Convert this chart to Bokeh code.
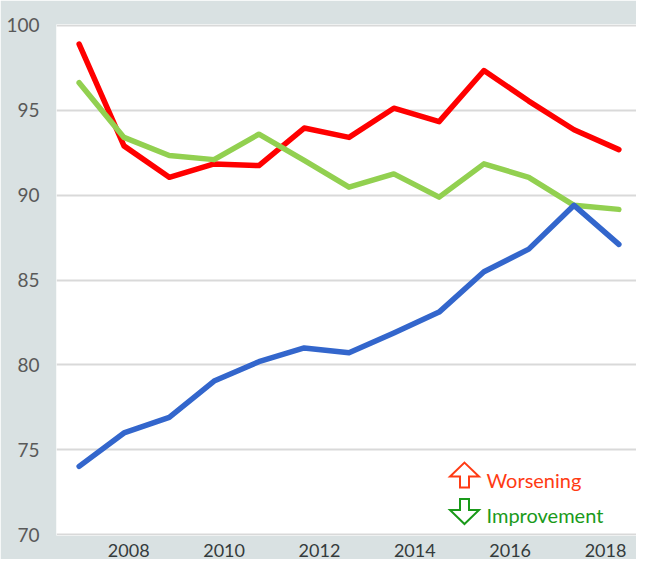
from bokeh.plotting import figure
from bokeh.models import FixedTicker, Label
from bokeh.embed import file_html
from bokeh.resources import INLINE

# Data
x_years = [2006.96, 2007.90, 2008.85, 2009.79, 2010.73, 2011.68, 2012.62,
           2013.56, 2014.51, 2015.45, 2016.39, 2017.34, 2018.28]
red_values = [98.9, 92.9, 91.05, 91.84, 91.74, 93.95, 93.4, 95.12, 94.33,
              97.34, 95.54, 93.85, 92.68]
green_values = [96.62, 93.4, 92.33, 92.09, 93.59, 92.05, 90.47, 91.25, 89.88,
                91.84, 91.05, 89.4, 89.16]
blue_values = [74.02, 75.99, 76.91, 79.05, 80.19, 81.0, 80.71, 81.88, 83.11,
               85.49, 86.82, 89.4, 87.1]
x_ticks = [2008, 2010, 2012, 2014, 2016, 2018]
y_ticks = [70, 75, 80, 85, 90, 95, 100]

BG = "#d9e1e2"
FONT = "Lato"
WORSE = "#ff3b14"
BETTER = "#1a9a1a"

X0, X1 = 2006.485, 2018.65
Y0, Y1 = 69.95, 100.05
LEFT, TOP = 56, 24
FRAME_W, FRAME_H = 636 - LEFT, 512

p = figure(width=636, height=559, output_backend="svg", toolbar_location=None,
           x_range=(X0, X1), y_range=(Y0, Y1),
           min_border_left=LEFT, min_border_top=TOP, min_border_right=0,
           min_border_bottom=559 - TOP - FRAME_H)
p.border_fill_color = BG
p.background_fill_color = "white"
p.outline_line_color = None

p.line(x_years, red_values, line_color="#ff0000", line_width=5.5,
       line_cap="round", line_join="round")
p.line(x_years, green_values, line_color="#92d050", line_width=5.5,
       line_cap="round", line_join="round")
p.line(x_years, blue_values, line_color="#3366cc", line_width=5.5,
       line_cap="round", line_join="round")

p.xgrid.grid_line_color = None
p.ygrid.grid_line_color = "#d9d9d9"
p.ygrid.grid_line_width = 2
p.yaxis.ticker = FixedTicker(ticks=y_ticks)
p.xaxis.ticker = FixedTicker(ticks=x_ticks)

for ax in (p.xaxis[0], p.yaxis[0]):
    ax.axis_line_color = None
    ax.major_tick_line_color = None
    ax.minor_tick_line_color = None
    ax.major_label_text_font = FONT
    ax.major_label_text_font_size = "18px"

p.xaxis.major_label_text_color = "#343b3c"
p.xaxis.major_label_standoff = 2
p.yaxis.major_label_text_color = "#595959"
p.yaxis.major_label_standoff = 11
p.yaxis.major_label_text_font_size = "19px"

# Legend (custom): hollow block arrows, shaped in pixel offsets around an anchor
px_x = (X1 - X0) / FRAME_W   # data units per pixel, x
px_y = (Y1 - Y0) / FRAME_H   # data units per pixel, y

def sx(px):
    # screen x (pixels in figure) -> data x
    return X0 + (px - LEFT) * px_x

def sy(py):
    # screen y (pixels from figure top) -> data y
    return Y1 - (py - TOP) * px_y

def arrow(cx, cy, up):
    s = 1 if up else -1
    pts = [(0, 12.5), (14.5, -1.5), (4.5, -1.5), (4.5, -12.5),
           (-4.5, -12.5), (-4.5, -1.5), (-14.5, -1.5)]
    xs = [cx + dx * px_x for dx, dy in pts]
    ys = [cy + s * dy * px_y for dx, dy in pts]
    return xs, ys

ARROW_X = 464
TEXT_X = 486
ax_up, ay_up = arrow(sx(ARROW_X), sy(475.5), True)
p.patch(ax_up, ay_up, fill_color="white", line_color=WORSE, line_width=2,
        line_join="miter")
ax_dn, ay_dn = arrow(sx(ARROW_X), sy(512), False)
p.patch(ax_dn, ay_dn, fill_color="white", line_color=BETTER, line_width=2,
        line_join="miter")

p.add_layout(Label(x=sx(TEXT_X), y=sy(480), text="Worsening", text_font=FONT,
                   text_font_size="20px", text_color=WORSE,
                   text_align="left", text_baseline="middle"))
p.add_layout(Label(x=sx(TEXT_X), y=sy(515.5), text="Improvement", text_font=FONT,
                   text_font_size="20px", text_color=BETTER,
                   text_align="left", text_baseline="middle"))

open("out.html", "w").write(file_html(p, INLINE))
